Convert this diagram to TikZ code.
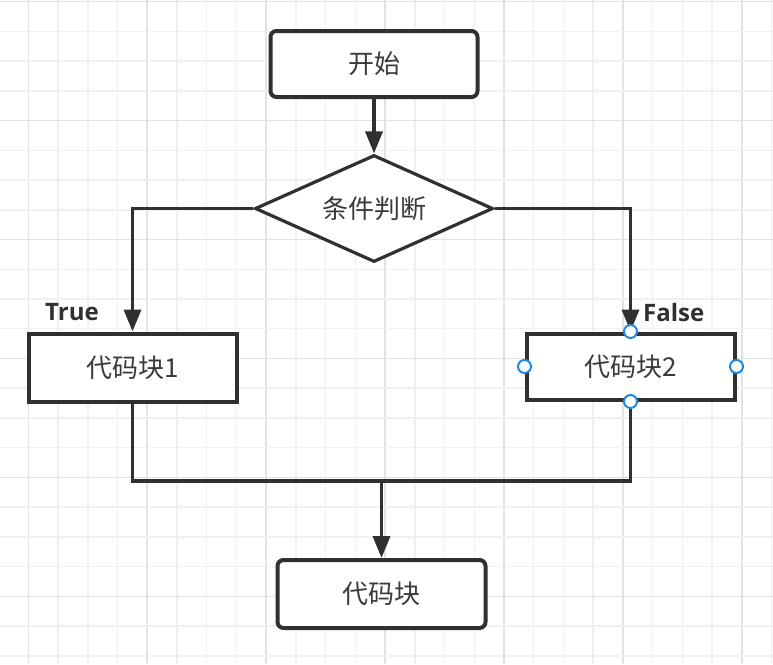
\documentclass[tikz,border=0pt]{standalone}
\usepackage{fontspec}
\newfontfamily\cjk{Noto Sans CJK SC}
\newfontfamily\lat{Open Sans}
\usetikzlibrary{shapes.geometric,arrows.meta}
\definecolor{ink}{RGB}{48,48,48}
\definecolor{txt}{RGB}{58,58,58}
\definecolor{gminor}{RGB}{240,240,240}
\definecolor{gmajor}{RGB}{226,226,226}
\definecolor{hblue}{RGB}{30,136,229}
\tikzset{
  box/.style={draw=ink, line width=4pt, fill=white, inner sep=0pt,
    minimum width=208pt, minimum height=68pt, font=\cjk\fontsize{26}{30}\selectfont, text=txt},
  rbox/.style={box, rounded corners=6pt},
  cond/.style={diamond, draw=ink, line width=3.2pt, fill=white, inner sep=0pt,
    minimum width=238pt, minimum height=107pt,
    label={[font=\cjk\fontsize{26}{30}\selectfont, text=txt, inner sep=0pt]center:#1}},
  conn/.style={draw=ink, line width=3.5pt},
  arr/.style={conn, -{Triangle[length=22pt,width=17pt]}},
  handle/.style={circle, draw=hblue, fill=white, line width=2pt, inner sep=0pt, minimum size=13pt},
  lbl/.style={font=\lat\bfseries\fontsize{24}{28}\selectfont, text=ink, inner sep=0pt}
}
\begin{document}
\begin{tikzpicture}[x=1pt,y=-1pt]
\useasboundingbox (0,0) rectangle (773,664);
\fill[white] (0,0) rectangle (773,664);
% grid
\foreach \k in {0,...,26}{
  \pgfmathsetmacro\xx{-1.43+29.73*\k}
  \pgfmathtruncatemacro\m{mod(\k-1+40,4)}
  \ifnum\m=0
    \draw[gmajor, line width=1.5pt] (\xx,0) -- (\xx,664);
  \else
    \draw[gminor, line width=1.5pt] (\xx,0) -- (\xx,664);
  \fi
}
\foreach \k in {0,...,22}{
  \pgfmathsetmacro\yy{1.7+29.73*\k}
  \pgfmathtruncatemacro\m{mod(\k,4)}
  \ifnum\m=0
    \draw[gmajor, line width=1.5pt] (0,\yy) -- (773,\yy);
  \else
    \draw[gminor, line width=1.5pt] (0,\yy) -- (773,\yy);
  \fi
}
% nodes
\node[rbox, minimum height=66pt, minimum width=207pt] (start) at (374,64) {开始};
\node[cond=条件判断] (c) at (374,208.5) {};
\node[box, minimum height=68pt] (b1) at (132.5,367.5) {代码块1};
\node[box, minimum height=66pt] (b2) at (630.5,366.5) {代码块2};
\node[rbox] (end) at (381.5,594) {代码块};
% connectors
\draw[arr] (start.south) -- (c.north);
\draw[arr] (c.west) -| (b1.north);
\draw[arr] (c.east) -| (b2.north);
\coordinate (jl) at (132.5,481);
\coordinate (jr) at (630.5,481);
\coordinate (jm) at (381.5,481);
\draw[conn] (b1.south) -- (jl) -- (jr) -- (b2.south);
\draw[arr] (jm) -- (end.north);
% labels
\node[lbl, anchor=west] (t) at (45,312) {True};
\node[lbl, anchor=west] (f) at (643,312) {False};
% handles
\node[handle] (h1) at (b2.north) {};
\node[handle] (h2) at (b2.south) {};
\node[handle] (h3) at (b2.west) {};
\node[handle] (h4) at (b2.east) {};
\end{tikzpicture}
\end{document}
